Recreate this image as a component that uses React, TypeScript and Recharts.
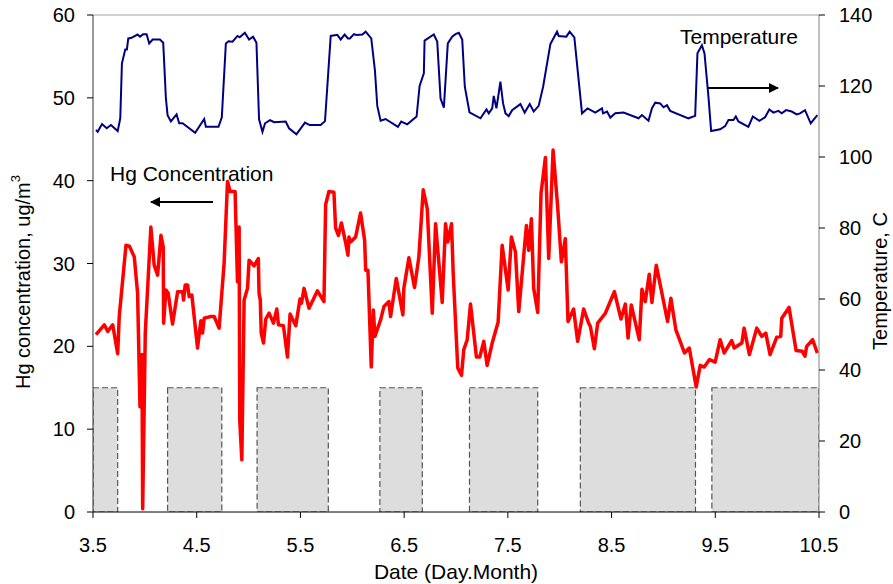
/**
 * Hg concentration vs. temperature, 3.5 – 10.5 (day.month).
 * Grey boxes mark the off periods (drawn 0–15 on the Hg axis).
 */

import {
  ComposedChart,
  Line,
  XAxis,
  YAxis,
  ReferenceArea,
  ReferenceLine,
} from 'recharts'

const FONT = '"Liberation Sans", Arial, sans-serif'

// x ticks (Day.Month)
const dateTicks = [3.5, 4.5, 5.5, 6.5, 7.5, 8.5, 9.5, 10.5]
const hgTicks = [0, 10, 20, 30, 40, 50, 60]
const tempTicks = [0, 20, 40, 60, 80, 100, 120, 140]

// shaded periods: start / end (day) and height on the Hg axis
const periodStart = [3.5, 4.219, 5.082, 6.266, 7.13, 8.199, 9.467]
const periodEnd = [3.738, 4.742, 5.769, 6.675, 7.788, 9.309, 10.5]
const periodTop = 15

// temperature, C (right axis)
const tempDays = [
  3.529, 3.545, 3.587, 3.632, 3.673, 3.738, 3.763, 3.779, 3.811, 3.827, 3.84, 3.866, 3.93, 3.953,
  3.984, 4.017, 4.042, 4.075, 4.145, 4.177, 4.203, 4.219, 4.251, 4.306, 4.331, 4.364, 4.485, 4.572,
  4.588, 4.71, 4.742, 4.781, 4.807, 4.845, 4.893, 4.915, 4.964, 5.005, 5.043, 5.076, 5.101, 5.134,
  5.159, 5.207, 5.246, 5.358, 5.39, 5.461, 5.544, 5.589, 5.695, 5.737, 5.792, 5.856, 5.888, 5.926,
  5.958, 5.977, 6.016, 6.042, 6.097, 6.129, 6.183, 6.218, 6.241, 6.273, 6.321, 6.44, 6.472, 6.53,
  6.62, 6.649, 6.69, 6.697, 6.786, 6.819, 6.851, 6.883, 6.921, 6.963, 6.995, 7.027, 7.06, 7.085,
  7.13, 7.236, 7.294, 7.316, 7.349, 7.364, 7.39, 7.428, 7.454, 7.477, 7.508, 7.541, 7.621, 7.662,
  7.711, 7.749, 7.797, 7.84, 7.91, 7.974, 7.99, 8.064, 8.096, 8.141, 8.215, 8.269, 8.343, 8.408,
  8.418, 8.456, 8.488, 8.536, 8.616, 8.76, 8.793, 8.856, 8.889, 8.921, 8.969, 9.001, 9.034, 9.065,
  9.241, 9.306, 9.328, 9.371, 9.396, 9.434, 9.46, 9.547, 9.595, 9.627, 9.675, 9.698, 9.723, 9.819,
  9.862, 9.925, 9.98, 10.021, 10.06, 10.108, 10.141, 10.182, 10.237, 10.285, 10.317, 10.365, 10.42,
  10.484,
]
const tempValues = [
  107.6, 107.1, 109.3, 108.1, 109.0, 107.3, 110.9, 126.4, 130.3, 130.3, 133.4, 133.5, 134.5, 133.9,
  134.6, 134.6, 132.0, 133.1, 133.1, 132.2, 116.5, 111.8, 110.0, 112.0, 109.5, 109.5, 106.8, 110.7,
  108.5, 108.5, 111.2, 132.0, 132.6, 132.5, 134.1, 133.7, 135.0, 133.1, 133.9, 132.2, 110.6, 107.1,
  109.5, 110.4, 109.8, 110.0, 108.1, 106.4, 109.7, 109.0, 109.0, 110.1, 134.1, 134.4, 133.1, 134.5,
  133.4, 133.4, 134.6, 134.4, 134.5, 135.3, 133.4, 124.5, 114.4, 110.2, 110.7, 108.5, 110.0, 109.2,
  111.4, 120.0, 123.6, 132.8, 134.5, 132.5, 116.5, 113.9, 132.0, 133.9, 134.6, 135.0, 133.1, 119.8,
  112.6, 110.9, 113.4, 112.3, 113.7, 117.2, 113.7, 121.2, 115.1, 112.3, 111.5, 113.2, 114.9, 112.5,
  114.9, 112.8, 114.4, 119.8, 131.8, 135.3, 134.1, 133.9, 135.3, 133.7, 112.3, 113.7, 112.5, 113.7,
  112.3, 112.8, 111.1, 112.3, 112.5, 110.9, 111.8, 110.2, 113.7, 115.3, 115.1, 114.0, 114.6, 113.0,
  110.9, 111.6, 129.2, 131.5, 129.2, 117.0, 107.3, 107.8, 108.7, 110.4, 110.4, 111.4, 110.0, 108.5,
  111.4, 110.2, 111.2, 113.4, 112.5, 113.0, 112.3, 113.2, 112.8, 112.0, 112.3, 113.2, 109.5,
  111.8,
]

// Hg concentration, ug/m3 (left axis)
const hgDays = [
  3.529, 3.609, 3.642, 3.69, 3.738, 3.753, 3.818, 3.85, 3.898, 3.93, 3.953, 3.972, 3.979, 4.004,
  4.058, 4.09, 4.123, 4.155, 4.177, 4.181, 4.203, 4.225, 4.267, 4.316, 4.364, 4.373, 4.389, 4.412,
  4.427, 4.453, 4.508, 4.54, 4.556, 4.572, 4.636, 4.668, 4.716, 4.764, 4.797, 4.822, 4.87, 4.893,
  4.909, 4.915, 4.935, 4.957, 4.99, 5.005, 5.053, 5.094, 5.101, 5.113, 5.122, 5.144, 5.166, 5.198,
  5.24, 5.272, 5.288, 5.336, 5.375, 5.4, 5.455, 5.496, 5.51, 5.535, 5.583, 5.664, 5.727, 5.743,
  5.775, 5.823, 5.839, 5.866, 5.895, 5.936, 5.958, 5.968, 5.984, 6.032, 6.08, 6.119, 6.129, 6.151,
  6.183, 6.203, 6.218, 6.273, 6.305, 6.353, 6.369, 6.424, 6.488, 6.497, 6.546, 6.6, 6.642, 6.684,
  6.723, 6.771, 6.803, 6.867, 6.899, 6.921, 6.957, 6.973, 7.017, 7.053, 7.075, 7.108, 7.14, 7.197,
  7.229, 7.268, 7.3, 7.349, 7.406, 7.445, 7.503, 7.534, 7.573, 7.605, 7.679, 7.701, 7.727, 7.749,
  7.788, 7.82, 7.862, 7.894, 7.936, 7.98, 8.016, 8.054, 8.08, 8.134, 8.173, 8.231, 8.279, 8.296,
  8.334, 8.366, 8.44, 8.527, 8.591, 8.633, 8.659, 8.69, 8.767, 8.793, 8.825, 8.863, 8.889, 8.931,
  9.04, 9.072, 9.12, 9.203, 9.249, 9.316, 9.355, 9.393, 9.444, 9.499, 9.547, 9.586, 9.659, 9.682,
  9.756, 9.778, 9.829, 9.9, 9.948, 9.987, 10.028, 10.093, 10.131, 10.141, 10.211, 10.279, 10.339,
  10.365, 10.381, 10.439, 10.484,
]
const hgValues = [
  21.4, 22.6, 21.8, 22.6, 19.1, 23.6, 32.2, 32.1, 30.8, 26.4, 12.7, 19.0, 0.4, 21.6,
  34.4, 29.8, 28.6, 33.4, 32.0, 22.8, 26.8, 26.4, 22.7, 26.6, 26.6, 25.6, 27.4, 27.4,
  26.0, 26.2, 19.8, 23.1, 21.6, 23.4, 23.6, 23.6, 22.2, 30.0, 39.9, 38.7, 38.7, 27.8,
  34.4, 11.1, 6.3, 25.6, 27.0, 30.4, 29.7, 30.6, 26.4, 25.6, 21.6, 20.4, 23.3, 24.0,
  22.8, 24.5, 22.6, 22.5, 18.7, 23.9, 22.5, 25.7, 25.2, 27.0, 24.6, 26.7, 25.4, 37.1,
  38.7, 38.6, 34.3, 33.4, 34.9, 32.5, 31.0, 33.2, 32.6, 33.2, 36.1, 32.8, 29.2, 29.2,
  17.5, 24.4, 21.2, 23.2, 24.8, 25.4, 23.6, 28.2, 23.8, 27.0, 30.7, 27.1, 30.8, 38.9,
  36.6, 24.0, 34.8, 25.3, 34.8, 32.6, 34.8, 28.8, 17.4, 16.5, 19.6, 20.8, 25.1, 18.7,
  18.7, 20.6, 17.7, 20.4, 22.9, 32.2, 26.8, 33.2, 31.4, 24.2, 34.6, 31.6, 35.4, 27.0,
  24.1, 38.5, 42.8, 30.6, 43.7, 36.9, 30.2, 33.0, 23.0, 24.5, 20.6, 24.5, 22.8, 22.4,
  19.7, 22.8, 24.0, 26.6, 23.3, 25.1, 21.0, 25.0, 20.8, 26.9, 25.4, 28.7, 25.3, 29.8,
  23.0, 25.8, 22.0, 19.2, 19.8, 15.1, 17.7, 17.5, 18.4, 18.1, 20.8, 19.2, 20.7, 19.8,
  20.4, 22.2, 19.0, 22.2, 21.2, 21.6, 19.0, 21.1, 21.2, 23.4, 24.7, 19.5, 19.4,
  18.8, 20.0, 20.8, 19.2,
]

const tempData = tempDays.map((day, i) => ({ day, temp: tempValues[i] }))
const hgData = hgDays.map((day, i) => ({ day, hg: hgValues[i] }))

const tickStyle = { fill: '#000', fontSize: 20, fontFamily: FONT }

export default function App() {
  return (
    <div style={{ position: 'relative', width: 893, height: 584, background: '#fff', fontFamily: FONT }}>
      <style>{'body{margin:0}'}</style>
      <ComposedChart width={893} height={584} margin={{ top: 15, right: 0, bottom: 0, left: 1 }}>
        <XAxis
          xAxisId="d"
          dataKey="day"
          type="number"
          domain={[3.5, 10.5]}
          ticks={dateTicks}
          tickFormatter={(v: number) => v.toFixed(1)}
          tick={tickStyle}
          stroke="#000"
          tickSize={6}
          tickMargin={20}
          height={72}
          allowDataOverflow
          label={{
            value: 'Date (Day.Month)',
            position: 'insideBottom',
            offset: 5,
            fill: '#000',
            fontSize: 21,
            fontFamily: FONT,
          }}
        />
        <YAxis
          yAxisId="hg"
          orientation="left"
          domain={[0, 60]}
          ticks={hgTicks}
          width={92}
          tick={tickStyle}
          stroke="#333"
          tickLine={{ stroke: '#000' }}
          tickSize={6}
          tickMargin={12}
          label={{
            content: () => (
              <text
                x={23}
                y={282}
                transform="rotate(-90 23 282)"
                textAnchor="middle"
                dominantBaseline="central"
                fontSize={20}
                fontFamily={FONT}
                fill="#000"
              >
                Hg concentration, ug/m<tspan dy={-8} fontSize={13}>3</tspan>
              </text>
            ),
          }}
        />
        <YAxis
          yAxisId="t"
          orientation="right"
          domain={[0, 140]}
          ticks={tempTicks}
          width={74}
          tick={tickStyle}
          stroke="#808080"
          tickLine={{ stroke: '#000' }}
          tickSize={6}
          tickMargin={14}
          label={{
            content: () => (
              <text
                x={880}
                y={281}
                transform="rotate(-90 880 281)"
                textAnchor="middle"
                dominantBaseline="central"
                fontSize={20}
                fontFamily={FONT}
                fill="#000"
              >
                Temperature, C
              </text>
            ),
          }}
        />

        {/* light frame line along the top of the plot */}
        <ReferenceLine xAxisId="d" yAxisId="hg" y={60} stroke="#a6a6a6" strokeWidth={1.2} />

        {periodStart.map((x1, i) => (
          <ReferenceArea
            key={i}
            xAxisId="d"
            yAxisId="hg"
            x1={x1}
            x2={periodEnd[i]}
            y1={0}
            y2={periodTop}
            fill="#dddddd"
            fillOpacity={1}
            stroke="#555"
            strokeDasharray="6 3"
            strokeWidth={1.2}
            ifOverflow="hidden"
          />
        ))}

        <Line
          xAxisId="d"
          yAxisId="t"
          data={tempData}
          dataKey="temp"
          type="linear"
          stroke="#000080"
          strokeWidth={2}
          dot={false}
          isAnimationActive={false}
        />
        <Line
          xAxisId="d"
          yAxisId="hg"
          data={hgData}
          dataKey="hg"
          type="linear"
          stroke="#ff0000"
          strokeWidth={3.5}
          strokeLinejoin="round"
          dot={false}
          isAnimationActive={false}
        />
      </ComposedChart>

      {/* series annotations */}
      <svg
        width={893}
        height={584}
        style={{ position: 'absolute', left: 0, top: 0, pointerEvents: 'none' }}
      >
        <defs>
          <marker id="ah" viewBox="0 0 10 10" refX="9" refY="5" markerWidth="5" markerHeight="5" orient="auto">
            <path d="M0,0 L10,5 L0,10 z" fill="#000" />
          </marker>
        </defs>
        <text x={110} y={181} fontSize={21} fontFamily={FONT} fill="#000">Hg Concentration</text>
        <line x1={213} y1={202} x2={151} y2={202} stroke="#000" strokeWidth={2} markerEnd="url(#ah)" />
        <text x={680} y={44} fontSize={21} fontFamily={FONT} fill="#000">Temperature</text>
        <line x1={708} y1={88} x2={778} y2={88} stroke="#000" strokeWidth={2} markerEnd="url(#ah)" />
      </svg>
    </div>
  )
}
